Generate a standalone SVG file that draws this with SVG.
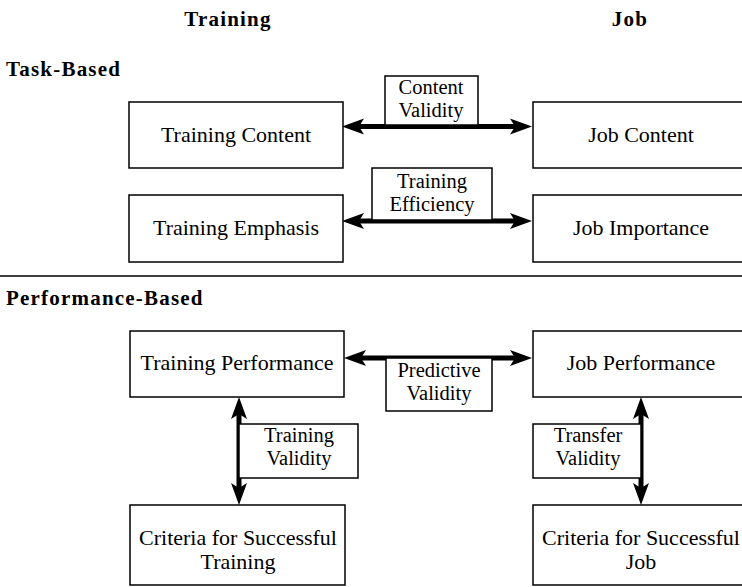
<svg xmlns="http://www.w3.org/2000/svg" width="742" height="587" viewBox="0 0 742 587">
<defs>
<style>
.box{fill:#fff;stroke:#000;stroke-width:1.5}
.t{font-family:'Liberation Serif','DejaVu Serif','Times New Roman',serif;font-size:22px;fill:#000;text-anchor:middle}
.l{font-family:'Liberation Serif','DejaVu Serif','Times New Roman',serif;font-size:20.5px;fill:#000;text-anchor:middle}
.h{font-family:'Liberation Serif','DejaVu Serif','Times New Roman',serif;font-size:21px;font-weight:bold;letter-spacing:1.2px;fill:#000}
.conn{stroke:#000;stroke-width:5;fill:none;marker-start:url(#ah);marker-end:url(#ah)}
</style>
<marker id="ah" markerUnits="userSpaceOnUse" markerWidth="26" markerHeight="20" refX="5" refY="8" orient="auto-start-reverse" overflow="visible">
<path d="M0,0 L22,8 L0,16 L5,8 z" fill="#000"/>
</marker>
</defs>
<rect width="742" height="587" fill="#fff"/>
<g id="headings">
<text class="h" x="228" y="26" text-anchor="middle">Training</text>
<text class="h" x="630" y="26" text-anchor="middle">Job</text>
<text class="h" x="6" y="76">Task-Based</text>
<text class="h" x="6" y="305">Performance-Based</text>
<line x1="0" y1="276" x2="742" y2="276" stroke="#000" stroke-width="1.5"/>
</g>
<g id="connectors">
<path class="conn" d="M359,126.5 H515"/>
<path class="conn" d="M359,221 H515"/>
<path class="conn" d="M361,358 H515"/>
<path class="conn" d="M239,414 V488"/>
<path class="conn" d="M641,414 V488"/>
</g>
<g id="training-content"><rect class="box" x="129" y="102" width="214" height="66"/><text class="t" x="236" y="142">Training Content</text></g>
<g id="job-content"><rect class="box" x="533" y="102" width="217" height="66"/><text class="t" x="641" y="142">Job Content</text></g>
<g id="training-emphasis"><rect class="box" x="129" y="195" width="214" height="67"/><text class="t" x="236" y="235">Training Emphasis</text></g>
<g id="job-importance"><rect class="box" x="533" y="195" width="217" height="67"/><text class="t" x="641" y="235">Job Importance</text></g>
<g id="content-validity"><rect class="box" x="385" y="76" width="93" height="49"/><text class="l" x="431" y="94">Content</text><text class="l" x="431" y="116.5">Validity</text></g>
<g id="training-efficiency"><rect class="box" x="372" y="168" width="120" height="52"/><text class="l" x="432" y="188">Training</text><text class="l" x="432" y="210.5">Efficiency</text></g>
<g id="training-performance"><rect class="box" x="130" y="331" width="214" height="66"/><text class="t" x="237" y="370">Training Performance</text></g>
<g id="job-performance"><rect class="box" x="533" y="331" width="217" height="66"/><text class="t" x="641" y="370">Job Performance</text></g>
<g id="predictive-validity"><rect class="box" x="386" y="358" width="106" height="53"/><text class="l" x="439" y="377">Predictive</text><text class="l" x="439" y="399.5">Validity</text></g>
<g id="training-validity"><rect class="box" x="239" y="424" width="119" height="54"/><text class="l" x="299" y="442">Training</text><text class="l" x="299" y="464.5">Validity</text></g>
<g id="transfer-validity"><rect class="box" x="533" y="424" width="108" height="54"/><text class="l" x="588" y="442">Transfer</text><text class="l" x="588" y="464.5">Validity</text></g>
<g id="criteria-training"><rect class="box" x="130" y="505" width="215" height="80"/><text class="t" x="238" y="545">Criteria for Successful</text><text class="t" x="238" y="569">Training</text></g>
<g id="criteria-job"><rect class="box" x="533" y="505" width="217" height="80"/><text class="t" x="641" y="545">Criteria for Successful</text><text class="t" x="641" y="569">Job</text></g>
</svg>
